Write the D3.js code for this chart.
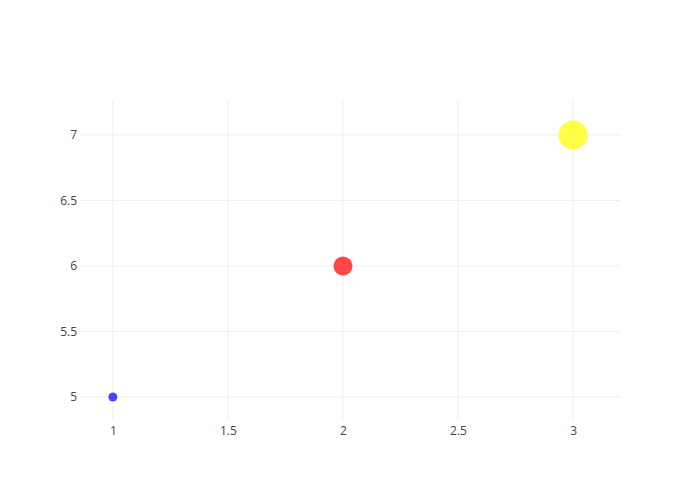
<!DOCTYPE html>
<html>
<head>
<meta charset="utf-8">
<script src="https://cdn.jsdelivr.net/npm/d3@7"></script>
<style>
  body { margin: 0; background: #fff; }
  svg { display: block; font-family: "Open Sans", sans-serif; }
  .tick text { fill: #444; font-size: 12px; }
</style>
</head>
<body>
<svg id="chart"></svg>
<script>
// data
const xValues = [1, 2, 3];
const yValues = [5, 6, 7];
const markerSizes = [9, 19, 29];
const markerColors = ["rgb(0,0,255)", "rgb(255,0,0)", "rgb(255,255,0)"];
const xTicks = [1, 1.5, 2, 2.5, 3];
const yTicks = [5, 5.5, 6, 6.5, 7];
const xRange = [0.857, 3.204];
const yRange = [4.824, 7.267];

const width = 700, height = 500;
const margin = { top: 100, right: 80, bottom: 80, left: 80 };
const innerW = width - margin.left - margin.right;
const innerH = height - margin.top - margin.bottom;

const svg = d3.select("#chart")
  .attr("width", width)
  .attr("height", height);

const g = svg.append("g")
  .attr("transform", `translate(${margin.left},${margin.top})`);

const x = d3.scaleLinear().domain(xRange).range([0, innerW]);
const y = d3.scaleLinear().domain(yRange).range([innerH, 0]);

// grid lines
g.append("g")
  .selectAll("line")
  .data(xTicks)
  .join("line")
  .attr("x1", d => x(d)).attr("x2", d => x(d))
  .attr("y1", 0).attr("y2", innerH)
  .attr("stroke", "#eee").attr("stroke-width", 1);

g.append("g")
  .selectAll("line")
  .data(yTicks)
  .join("line")
  .attr("x1", 0).attr("x2", innerW)
  .attr("y1", d => y(d)).attr("y2", d => y(d))
  .attr("stroke", "#eee").attr("stroke-width", 1);

// axes (labels only)
const xAxis = d3.axisBottom(x).tickValues(xTicks).tickSize(0).tickPadding(6).tickFormat(d3.format("~g"));
const yAxis = d3.axisLeft(y).tickValues(yTicks).tickSize(0).tickPadding(3).tickFormat(d3.format("~g"));

g.append("g")
  .attr("transform", `translate(0,${innerH})`)
  .call(xAxis)
  .call(a => a.select(".domain").remove())
  .selectAll("text").attr("font-family", "Open Sans").attr("font-size", 12);

g.append("g")
  .call(yAxis)
  .call(a => a.select(".domain").remove())
  .selectAll("text").attr("font-family", "Open Sans").attr("font-size", 12);

// markers
const points = xValues.map((v, i) => ({ x: v, y: yValues[i], size: markerSizes[i], color: markerColors[i] }));

g.append("g")
  .selectAll("circle")
  .data(points)
  .join("circle")
  .attr("cx", d => x(d.x))
  .attr("cy", d => y(d.y))
  .attr("r", d => d.size / 2)
  .attr("fill", d => d.color)
  .attr("fill-opacity", 0.72);
</script>
</body>
</html>
